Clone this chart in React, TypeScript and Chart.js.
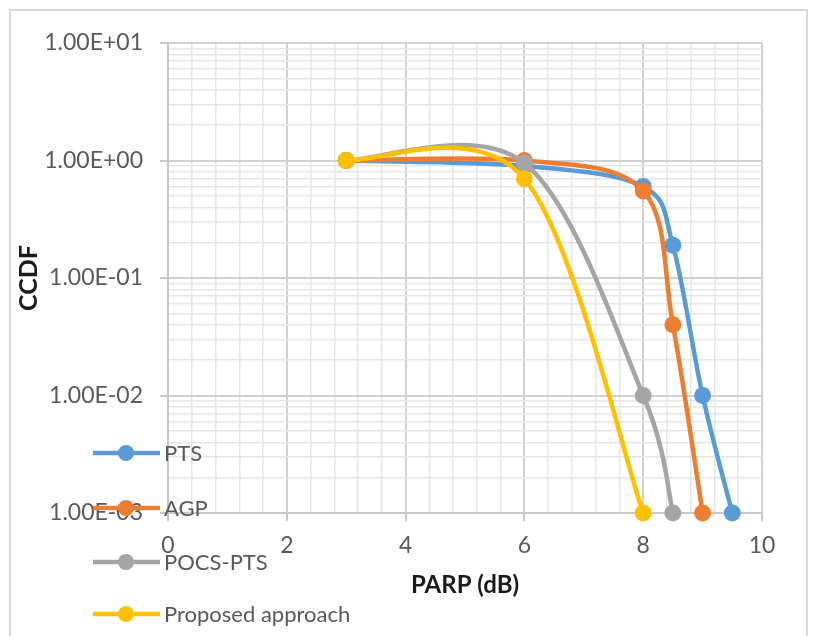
import React, { useEffect, useRef } from "react";
import { Chart, registerables } from "chart.js";

Chart.register(...registerables);

const seriesNames = ["PTS", "AGP", "POCS-PTS", "Proposed approach"];
const seriesColors = ["#5B9BD5", "#ED7D31", "#A5A5A5", "#FFC000"];

const ptsX = [3, 6, 8, 8.5, 9, 9.5];
const ptsY = [1, 0.9, 0.6, 0.19, 0.01, 0.001];
const agpX = [3, 6, 8, 8.5, 9];
const agpY = [1, 1, 0.55, 0.04, 0.001];
const pocsX = [3, 6, 8, 8.5];
const pocsY = [1, 0.95, 0.01, 0.001];
const propX = [3, 6, 8];
const propY = [1, 0.7, 0.001];

const xMajorTicks = [0, 2, 4, 6, 8, 10];
const yMajorTicks = [0.001, 0.01, 0.1, 1, 10];
const yTickLabels = ["1.00E-03", "1.00E-02", "1.00E-01", "1.00E+00", "1.00E+01"];

const xTitle = "PARP (dB)";
const yTitle = "CCDF";

const FONT = "Lato, 'Liberation Sans', sans-serif";
const TEXT = "#595959";

function pts(xs: number[], ys: number[]) {
  return xs.map((x, i) => ({ x, y: ys[i] }));
}

// Excel-like smoothing: Catmull-Rom style handles (1/6) with endpoint duplication
const excelSmoothPlugin = {
  id: "excelSmooth",
  beforeDatasetDraw(chart: any, args: any) {
    const meta = args.meta;
    const line = meta.dataset;
    const p = meta.data;
    if (!line || !p || p.length < 2) return;
    const n = p.length;
    const dist = (a: any, b: any) => Math.hypot(b.x - a.x, b.y - a.y);
    for (let i = 0; i < n - 1; i++) {
      const p1 = p[i];
      const p2 = p[i + 1];
      const p0 = i > 0 ? p[i - 1] : p1;
      const p3 = i + 2 < n ? p[i + 2] : p2;
      const d12 = dist(p1, p2);
      const d02 = dist(p0, p2);
      const d13 = dist(p1, p3);
      let f = 1 / 6;
      let g = 1 / 6;
      if (d02 > 0 && d02 / 6 > d12 / 2) f = d12 / (2 * d02);
      if (d13 > 0 && d13 / 6 > d12 / 2) g = d12 / (2 * d13);
      p1.cp2x = p1.x + f * (p2.x - p0.x);
      p1.cp2y = p1.y + f * (p2.y - p0.y);
      p2.cp1x = p2.x - g * (p3.x - p1.x);
      p2.cp1y = p2.y - g * (p3.y - p1.y);
    }
    p[0].cp1x = p[0].x;
    p[0].cp1y = p[0].y;
    p[n - 1].cp2x = p[n - 1].x;
    p[n - 1].cp2y = p[n - 1].y;
    line._pointsUpdated = true;
    line._path = undefined;
  },
};

const legendPlugin = {
  id: "customLegend",
  afterDraw(chart: any) {
    const ctx = chart.ctx;
    const rows = [453, 508, 562, 614];
    ctx.save();
    seriesNames.forEach((name, i) => {
      const y = rows[i];
      ctx.strokeStyle = seriesColors[i];
      ctx.lineWidth = 4.5;
      ctx.lineCap = "butt";
      ctx.beginPath();
      ctx.moveTo(93, y);
      ctx.lineTo(160, y);
      ctx.stroke();
      ctx.fillStyle = seriesColors[i];
      ctx.beginPath();
      ctx.arc(126, y, 8, 0, Math.PI * 2);
      ctx.fill();
      ctx.fillStyle = TEXT;
      ctx.font = `22px ${FONT}`;
      ctx.textBaseline = "middle";
      ctx.textAlign = "left";
      ctx.fillText(name, 164, y + 1);
    });
    ctx.restore();
  },
};

function isMajor(list: number[], v: number) {
  return list.some((m) => Math.abs(m - v) <= Math.abs(m) * 1e-6 + 1e-9);
}

export default function App() {
  const ref = useRef<HTMLCanvasElement | null>(null);

  useEffect(() => {
    if (!ref.current) return;
    const allSeries = [
      pts(ptsX, ptsY),
      pts(agpX, agpY),
      pts(pocsX, pocsY),
      pts(propX, propY),
    ];
    const chart = new Chart(ref.current, {
      type: "line",
      data: {
        datasets: allSeries.map((d, i) => ({
          label: seriesNames[i],
          data: d,
          borderColor: seriesColors[i],
          backgroundColor: seriesColors[i],
          pointBackgroundColor: seriesColors[i],
          pointBorderColor: seriesColors[i],
          borderWidth: 4.5,
          pointRadius: 8.5,
          pointBorderWidth: 0,
          tension: 0.4,
          fill: false,
          clip: false,
          order: 4 - i,
        })),
      },
      options: {
        responsive: true,
        maintainAspectRatio: false,
        animation: false,
        events: [],
        layout: { padding: { left: 0, top: 43, right: 53, bottom: 0 } },
        plugins: {
          legend: { display: false },
          tooltip: { enabled: false },
          title: { display: false },
        },
        scales: {
          x: {
            type: "linear",
            min: 0,
            max: 10,
            afterBuildTicks: (scale: any) => {
              const t: any[] = [];
              for (let i = 0; i <= 25; i++) t.push({ value: Math.round(i * 0.4 * 10) / 10 });
              scale.ticks = t;
            },
            afterFit: (scale: any) => {
              scale.height = 123;
            },
            ticks: {
              autoSkip: false,
              maxRotation: 0,
              padding: 11,
              color: TEXT,
              font: { family: FONT, size: 23 },
              callback: (v: any) => {
                const n = Number(v);
                return isMajor(xMajorTicks, n) ? String(Math.round(n)) : "";
              },
            },
            grid: {
              color: (c: any) => (isMajor(xMajorTicks, c.tick ? c.tick.value : 0) ? "#d0d0d0" : "#e6e6e6"),
              lineWidth: (c: any) => (isMajor(xMajorTicks, c.tick ? c.tick.value : 0) ? 2 : 1.5),
              tickColor: (c: any) => (isMajor(xMajorTicks, c.tick ? c.tick.value : 0) ? "#c8c8c8" : "rgba(0,0,0,0)"),
              tickLength: 8,
            },
            border: { color: "#c8c8c8", width: 2 },
            title: {
              display: true,
              text: xTitle,
              color: "#1a1a1a",
              font: { family: FONT, size: 24, weight: "bold" },
              padding: { top: 0, bottom: 36 },
            },
          },
          y: {
            type: "logarithmic",
            min: 0.001,
            max: 10,
            afterBuildTicks: (scale: any) => {
              const t: any[] = [];
              for (let e = -3; e <= 0; e++) {
                for (let m = 1; m <= 9; m++) t.push({ value: m * Math.pow(10, e) });
              }
              t.push({ value: 10 });
              scale.ticks = t;
            },
            afterFit: (scale: any) => {
              scale.width = 168;
            },
            ticks: {
              autoSkip: false,
              padding: 17,
              color: TEXT,
              font: { family: FONT, size: 23 },
              callback: (v: any) => {
                const n = Number(v);
                const idx = yMajorTicks.findIndex((m) => Math.abs(m - n) / m < 1e-6);
                return idx >= 0 ? yTickLabels[idx] : "";
              },
            },
            grid: {
              color: (c: any) => (isMajor(yMajorTicks, c.tick ? c.tick.value : 1) ? "#d0d0d0" : "#e6e6e6"),
              lineWidth: (c: any) => (isMajor(yMajorTicks, c.tick ? c.tick.value : 1) ? 2 : 1.5),
              tickColor: (c: any) => (isMajor(yMajorTicks, c.tick ? c.tick.value : 1) ? "#c8c8c8" : "rgba(0,0,0,0)"),
              tickLength: 8,
            },
            border: { color: "#c8c8c8", width: 2 },
            title: {
              display: true,
              text: yTitle,
              color: "#1a1a1a",
              font: { family: FONT, size: 25, weight: "bold" },
              padding: { top: 14, bottom: 0 },
            },
          },
        },
      },
      plugins: [excelSmoothPlugin, legendPlugin],
    } as any);
    return () => chart.destroy();
  }, []);

  return (
    <div style={{ position: "fixed", left: 0, top: 0, width: 815, height: 636, overflow: "hidden", background: "#fff" }}>
      <div style={{ position: "absolute", left: 9, top: 9, width: 795, height: 640, border: "2px solid #d9d9d9" }} />
      <div style={{ position: "absolute", left: 0, top: 0, width: 815, height: 636 }}>
        <canvas ref={ref} />
      </div>
    </div>
  );
}
